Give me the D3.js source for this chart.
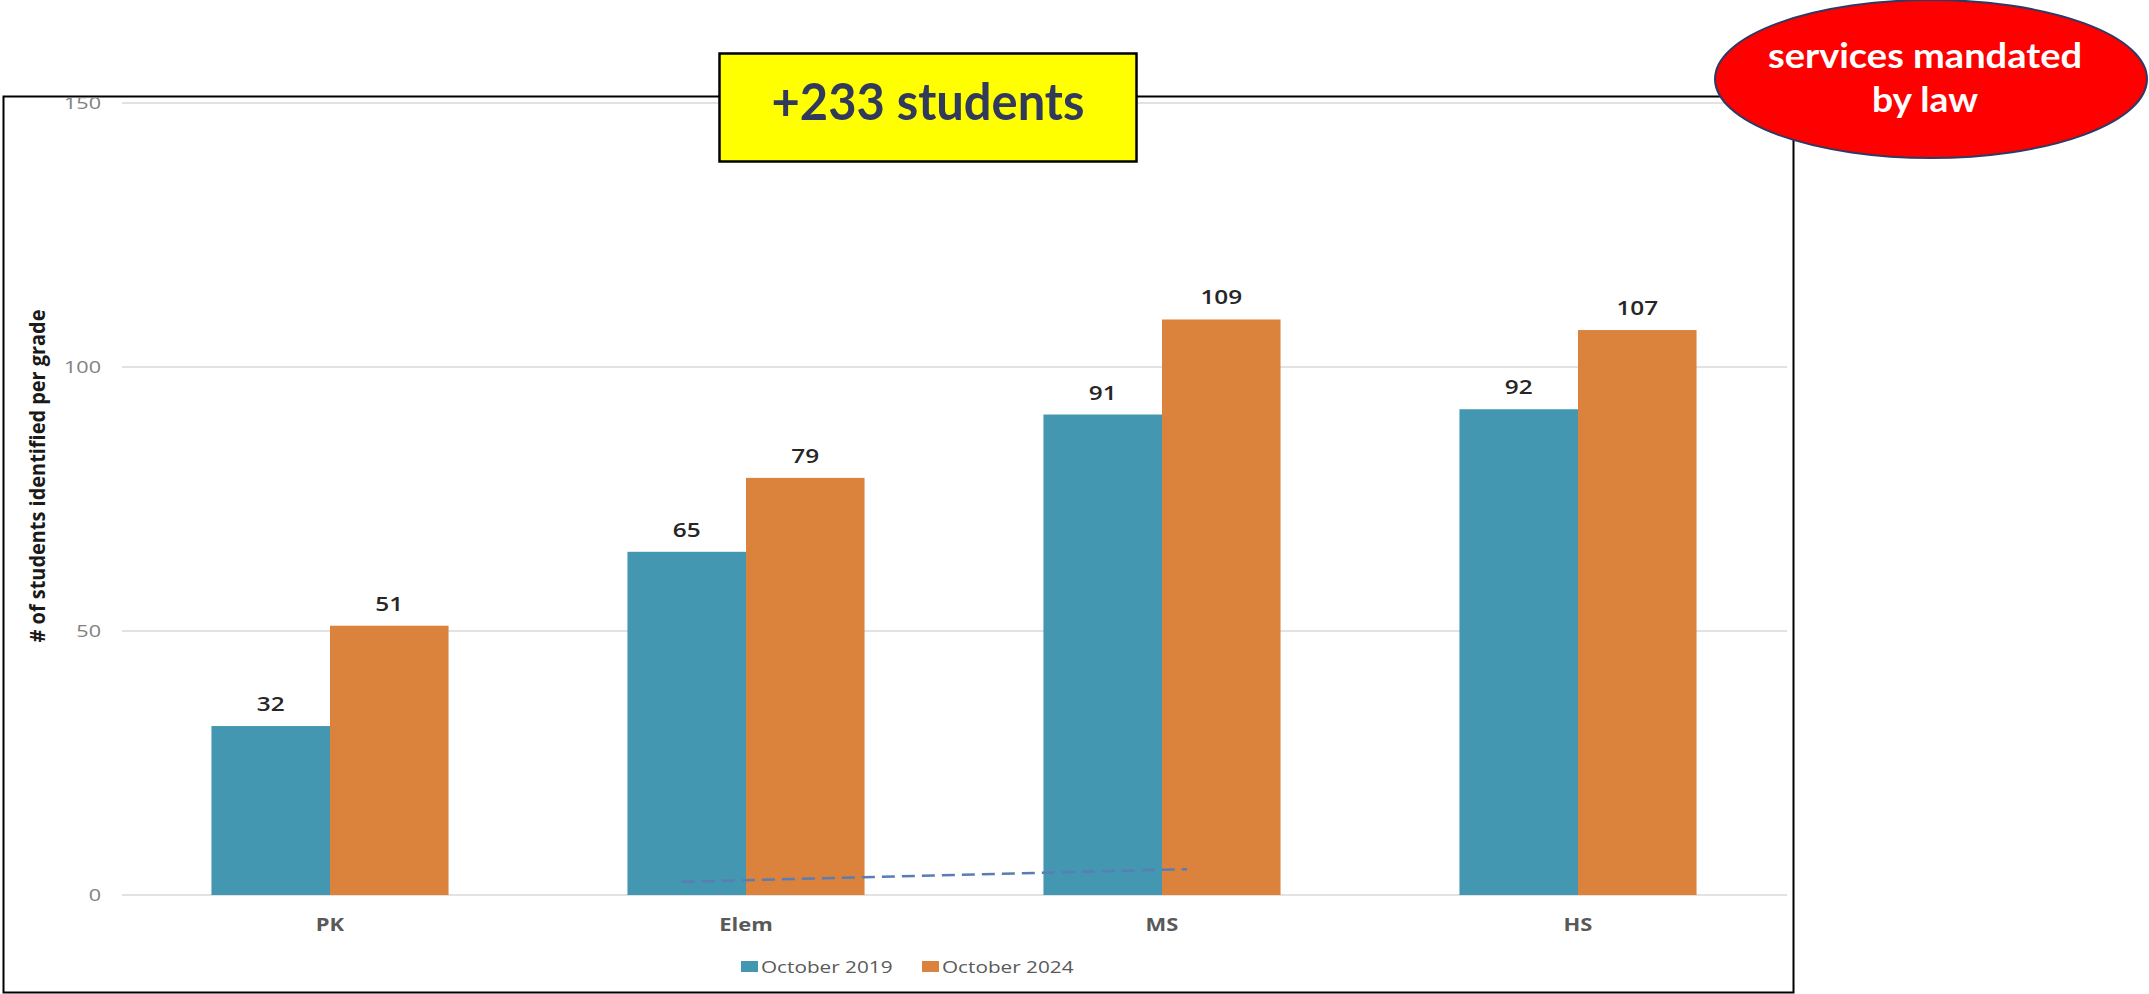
<!DOCTYPE html>
<html>
<head>
<meta charset="utf-8">
<script src="https://cdn.jsdelivr.net/npm/d3@7"></script>
<style>
  html, body { margin: 0; padding: 0; background: #ffffff; }
  svg { display: block; }
</style>
</head>
<body>
<svg id="chart" width="2149" height="994"></svg>
<script>
// ---- data ----
const categories = ["PK", "Elem", "MS", "HS"];
const seriesNames = ["October 2019", "October 2024"];
const oct2019 = [32, 65, 91, 92];
const oct2024 = [51, 79, 109, 107];
const yTicks = [0, 50, 100, 150];
const yTitle = "# of students identified per grade";
const calloutText = "+233 students";
const badgeLines = ["services mandated", "by law"];
// stray dashed connector in the source (category, offset within band, value)
const dashCats = ["Elem", "MS"];
const dashOffsets = [-0.154, 0.06];
const dashValues = [2.5, 4.9];

const colors = ["#4397b0", "#db833d"];

const svg = d3.select("#chart");
const plot = { left: 122, right: 1786, top: 103, bottom: 895 };

const x = d3.scaleBand().domain(categories).range([plot.left, plot.right]).paddingInner(0.43).paddingOuter(0.215);
const xs = d3.scaleBand().domain(seriesNames).range([0, x.bandwidth()]);
const y = d3.scaleLinear().domain([0, 150]).range([plot.bottom, plot.top]);

// outer frame
svg.append("rect")
  .attr("x", 3.5).attr("y", 96.5).attr("width", 1790).attr("height", 896)
  .attr("fill", "none").attr("stroke", "#000").attr("stroke-width", 2);

// gridlines
svg.append("g").selectAll("line").data(yTicks).join("line")
  .attr("x1", plot.left).attr("x2", plot.right + 1)
  .attr("y1", d => y(d)).attr("y2", d => y(d))
  .attr("stroke", "#d9d9d9").attr("stroke-width", 1.5);

// tick labels
svg.append("g").selectAll("text").data(yTicks).join("text")
  .attr("transform", d => `translate(101,${y(d) + 6}) scale(1.27,1)`)
  .attr("text-anchor", "end")
  .attr("font-family", "'Open Sans', sans-serif")
  .attr("font-size", 17)
  .attr("fill", "#808080")
  .text(d => d);

// y-axis title
svg.append("text")
  .attr("transform", "translate(45,476) rotate(-90)")
  .attr("text-anchor", "middle")
  .attr("font-family", "'Open Sans', sans-serif")
  .attr("font-weight", 700)
  .attr("font-size", 21)
  .attr("fill", "#1a1a1a")
  .attr("textLength", 333).attr("lengthAdjust", "spacingAndGlyphs")
  .text(yTitle);

// bars
const rows = categories.map((c, i) => ({ cat: c, vals: [oct2019[i], oct2024[i]] }));
const groups = svg.append("g").selectAll("g").data(rows).join("g")
  .attr("transform", d => `translate(${x(d.cat)},0)`);

groups.selectAll("rect").data(d => d.vals.map((v, j) => ({ v, s: seriesNames[j], j }))).join("rect")
  .attr("x", d => xs(d.s))
  .attr("width", xs.bandwidth())
  .attr("y", d => y(d.v))
  .attr("height", d => y(0) - y(d.v))
  .attr("fill", d => colors[d.j]);

groups.selectAll("text.val").data(d => d.vals.map((v, j) => ({ v, s: seriesNames[j], j }))).join("text")
  .attr("class", "val")
  .attr("transform", d => `translate(${xs(d.s) + xs.bandwidth() / 2},${y(d.v) - 15}) scale(1.25,1)`)
  .attr("text-anchor", "middle")
  .attr("font-family", "'Open Sans', sans-serif")
  .attr("font-weight", 600)
  .attr("font-size", 19.5)
  .attr("fill", "#262626")
  .text(d => d.v);

// category labels
svg.append("g").selectAll("text").data(categories).join("text")
  .attr("transform", d => `translate(${x(d) + x.bandwidth() / 2},931) scale(1.22,1)`)
  .attr("text-anchor", "middle")
  .attr("font-family", "'Open Sans', sans-serif")
  .attr("font-weight", 700)
  .attr("font-size", 18)
  .attr("fill", "#595959")
  .text(d => d);

// dashed stray line
const dashPts = dashCats.map((c, i) => [x(c) + x.bandwidth() / 2 + dashOffsets[i] * x.step(), y(dashValues[i])]);
svg.append("path")
  .attr("d", d3.line()(dashPts))
  .attr("fill", "none")
  .attr("stroke", "#5a7db5")
  .attr("stroke-width", 2.5)
  .attr("stroke-dasharray", "13,7");

// legend
const legendX = [741, 922];
const legend = svg.append("g").selectAll("g").data(seriesNames).join("g")
  .attr("transform", (d, i) => `translate(${legendX[i]},961)`);
legend.append("rect").attr("width", 17).attr("height", 11).attr("fill", (d, i) => colors[i]);
legend.append("text")
  .attr("transform", "translate(20,11.5) scale(1.22,1)")
  .attr("font-family", "'Open Sans', sans-serif")
  .attr("font-size", 17)
  .attr("fill", "#595959")
  .text(d => d);

// yellow callout
svg.append("rect")
  .attr("x", 719.5).attr("y", 53.5).attr("width", 417).attr("height", 108)
  .attr("fill", "#ffff00").attr("stroke", "#000").attr("stroke-width", 2.5);
svg.append("text")
  .attr("x", 928).attr("y", 120)
  .attr("text-anchor", "middle")
  .attr("font-family", "Lato, sans-serif")
  .attr("font-weight", 700)
  .attr("font-size", 51)
  .attr("fill", "#323a5c")
  .attr("textLength", 313).attr("lengthAdjust", "spacingAndGlyphs")
  .text(calloutText);

// red badge
svg.append("ellipse")
  .attr("cx", 1931).attr("cy", 79).attr("rx", 216).attr("ry", 79)
  .attr("fill", "#ff0000").attr("stroke", "#2f3a64").attr("stroke-width", 2);
const badgeBase = [68, 112];
const badgeWidth = [314, 106];
svg.append("g").selectAll("text").data(badgeLines).join("text")
  .attr("x", 1925).attr("y", (d, i) => badgeBase[i])
  .attr("text-anchor", "middle")
  .attr("font-family", "Lato, sans-serif")
  .attr("font-weight", 700)
  .attr("font-size", 35)
  .attr("fill", "#ffffff")
  .attr("textLength", (d, i) => badgeWidth[i]).attr("lengthAdjust", "spacingAndGlyphs")
  .text(d => d);
</script>
</body>
</html>
